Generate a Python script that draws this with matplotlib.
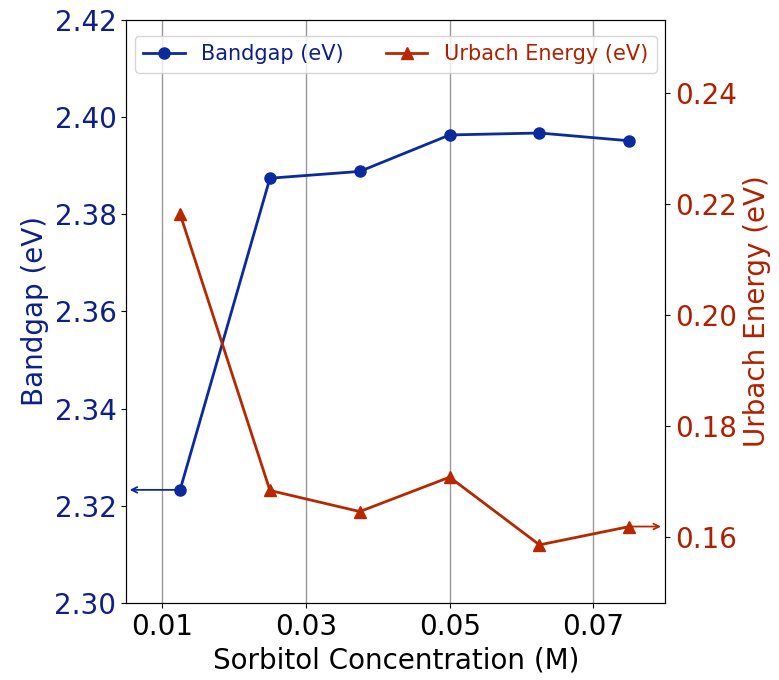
import matplotlib
matplotlib.use("Agg")
import matplotlib.pyplot as plt

conc = [0.0125, 0.025, 0.0375, 0.05, 0.0625, 0.075]
bandgap = [2.3233, 2.3874, 2.3888, 2.3963, 2.3967, 2.3951]
urbach = [0.2182, 0.1684, 0.1646, 0.1708, 0.1586, 0.1619]
xticks = [0.01, 0.03, 0.05, 0.07]
left_ticks = [2.30, 2.32, 2.34, 2.36, 2.38, 2.40, 2.42]
right_ticks = [0.16, 0.18, 0.20, 0.22, 0.24]

blue = '#0b2a9e'
blue_txt = '#0d1f8a'
red = '#b82800'
red_txt = '#b02000'

fig, ax = plt.subplots(figsize=(7.79, 6.8), dpi=100)
fig.subplots_adjust(left=0.162, right=0.854, top=0.971, bottom=0.113)
ax2 = ax.twinx()

l1, = ax.plot(conc, bandgap, '-o', color=blue, lw=2, ms=8, label='Bandgap (eV)')
l2, = ax2.plot(conc, urbach, '-^', color=red, lw=2, ms=9, label='Urbach Energy (eV)')

ax.set_xlim(0.005, 0.08)
ax.set_ylim(2.30, 2.42)
ax2.set_ylim(0.1481, 0.2532)
ax.set_xticks(xticks)
ax.set_xticklabels([f'{t:.2f}' for t in xticks])
ax.set_yticks(left_ticks)
ax.set_yticklabels([f'{t:.2f}' for t in left_ticks])
ax2.set_yticks(right_ticks)
ax2.set_yticklabels([f'{t:.2f}' for t in right_ticks])

ax.grid(axis='x', color='#999999', lw=1)
ax.tick_params(axis='x', labelsize=20)
ax.tick_params(axis='y', labelsize=20, colors=blue_txt)
ax2.tick_params(axis='y', labelsize=20, colors=red_txt)
for a in (ax, ax2):
    a.tick_params(axis='y', color='black')
ax.set_xlabel('Sorbitol Concentration (M)', fontsize=20)
ax.set_ylabel('Bandgap (eV)', fontsize=20, color=blue_txt)
ax2.set_ylabel('Urbach Energy (eV)', fontsize=20, color=red_txt)

ax.annotate('', xy=(0.0051, bandgap[0]), xytext=(conc[0], bandgap[0]),
            arrowprops=dict(arrowstyle='->', color=blue, lw=1.3))
ax2.annotate('', xy=(0.0798, urbach[-1]), xytext=(conc[-1], urbach[-1]),
             arrowprops=dict(arrowstyle='->', color=red, lw=1.3))

leg = ax.legend([l1, l2], ['Bandgap (eV)', 'Urbach Energy (eV)'], loc='upper center',
                ncol=2, fontsize=15, handlelength=2.0, columnspacing=2.0,
                bbox_to_anchor=(0.5, 0.99))
for t, c in zip(leg.get_texts(), [blue_txt, red_txt]):
    t.set_color(c)
leg.set_zorder(10)

fig.savefig('out.png', dpi=100)
